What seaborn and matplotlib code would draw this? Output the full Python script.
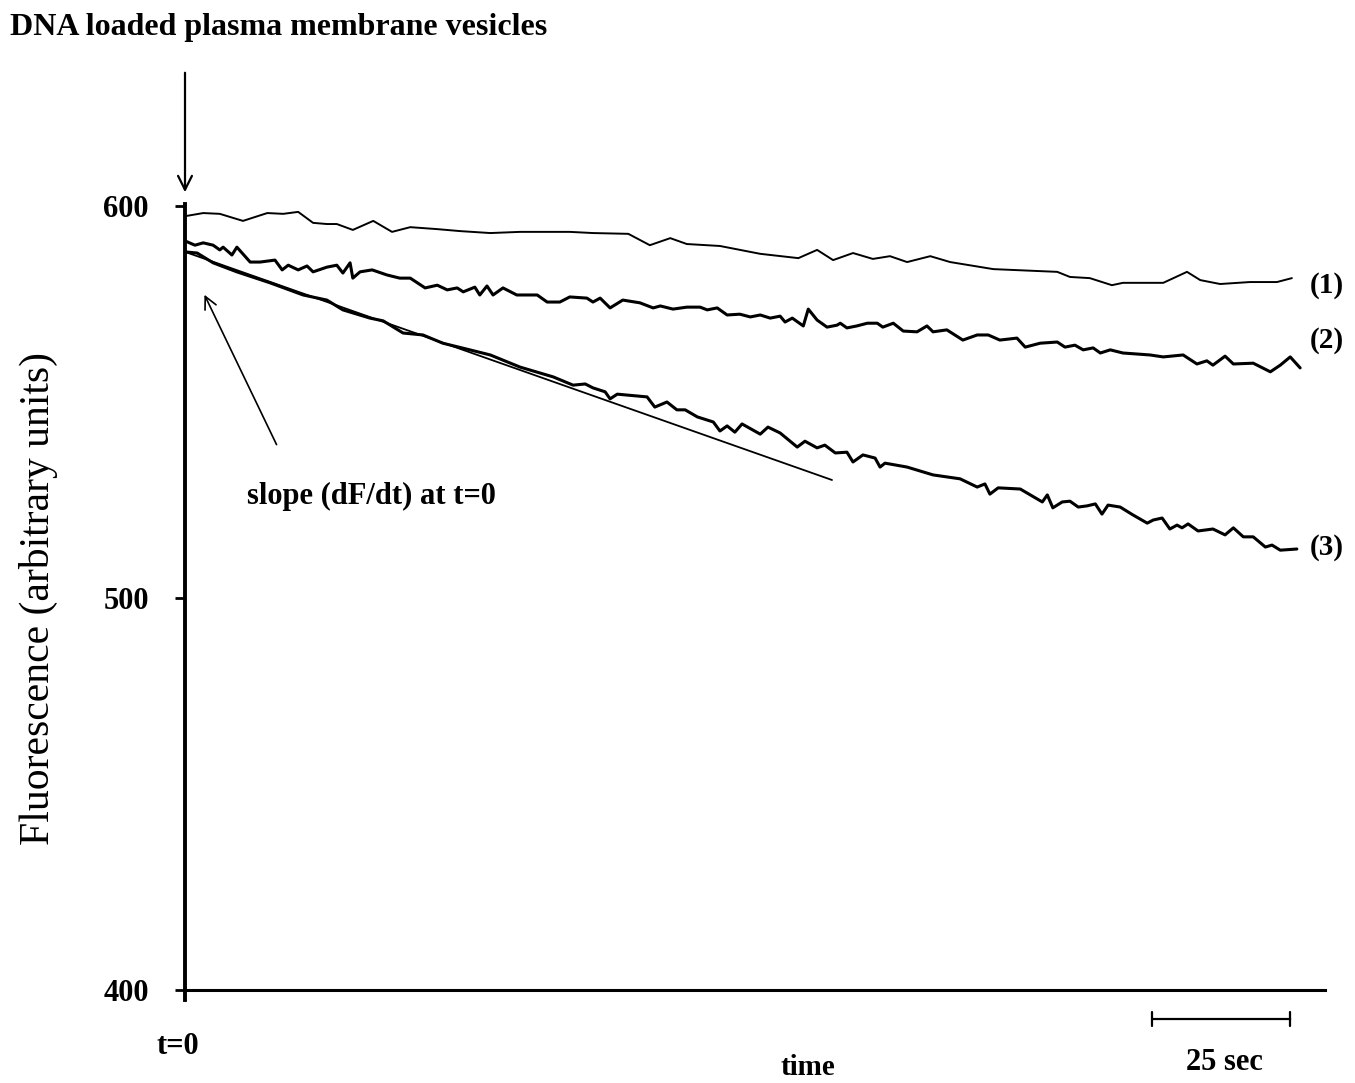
import matplotlib
matplotlib.use("Agg")
import matplotlib.pyplot as plt
import seaborn as sns
import pandas as pd

# trace (1): time (s) and fluorescence (a.u.)
time_1 = [0.0, 3.3, 6.3, 10.5, 14.9, 17.8, 20.5, 23.2, 25.7, 27.5, 30.4, 34.1, 37.5, 40.8,
          45.7, 49.8, 55.3, 60.7, 69.7, 73.9, 80.3, 84.2, 87.9, 90.9, 96.9, 104.2, 111.1,
          114.5, 117.4, 121.0, 124.6, 127.7, 130.8, 135.0, 138.6, 146.4, 158.0, 160.3,
          163.9, 167.9, 169.9, 177.2, 181.5, 183.9, 187.5, 192.9, 197.8, 200.5]
fluor_1 = [597.4, 598.2, 598.0, 596.2, 598.2, 598.0, 598.5, 595.7, 595.4, 595.4, 593.9, 596.2,
           593.4, 594.6, 594.1, 593.6, 593.1, 593.4, 593.4, 593.1, 592.9, 590.0, 591.8, 590.3,
           589.8, 587.8, 586.7, 588.8, 586.2, 588.0, 586.5, 587.2, 585.7, 587.2, 585.7, 583.9,
           583.2, 581.9, 581.6, 579.8, 580.4, 580.4, 583.2, 581.1, 580.1, 580.6, 580.6, 581.6]

# trace (2)
time_2 = [0.0, 1.8, 3.3, 5.1, 6.3, 6.9, 8.5, 9.4, 11.8, 13.6, 16.3, 17.6, 18.7, 20.5, 22.1,
          23.2, 25.7, 27.5, 28.6, 29.9, 30.4, 31.7, 33.9, 36.6, 38.9, 40.8, 43.5, 45.7, 47.5,
          49.3, 50.4, 52.5, 53.4, 54.7, 55.8, 57.6, 60.1, 63.8, 65.6, 67.9, 69.7, 72.8, 73.9,
          75.2, 77.0, 79.3, 82.4, 84.8, 86.1, 88.4, 90.9, 93.3, 94.6, 96.4, 98.2, 100.5, 102.4,
          104.2, 106.0, 107.8, 108.7, 110.0, 112.0, 112.9, 114.5, 116.3, 118.1, 118.7, 119.9,
          121.7, 123.6, 125.4, 126.4, 128.3, 130.1, 132.6, 134.4, 135.5, 138.0, 140.9, 143.5,
          145.5, 147.6, 150.7, 152.2, 154.9, 158.0, 159.4, 161.2, 162.7, 164.5, 165.8, 167.6,
          169.9, 174.8, 177.2, 180.8, 183.3, 185.1, 186.2, 188.4, 189.9, 193.5, 196.6, 198.4,
          200.2, 202.0]
fluor_2 = [591.1, 590.0, 590.6, 590.0, 588.8, 589.5, 587.5, 589.5, 585.7, 585.7, 586.2, 583.7,
           584.9, 583.7, 584.7, 583.2, 584.4, 584.9, 582.9, 585.5, 581.6, 583.2, 583.7, 582.4,
           581.6, 581.6, 579.1, 579.8, 578.6, 579.1, 578.1, 579.3, 577.3, 579.6, 577.3, 579.1,
           577.3, 577.3, 575.5, 575.5, 576.8, 576.5, 575.5, 576.5, 574.0, 576.0, 575.3, 574.0,
           574.5, 573.7, 574.2, 574.2, 573.5, 574.0, 572.2, 572.4, 571.7, 572.2, 571.4, 571.9,
           570.4, 571.4, 569.4, 573.7, 570.9, 569.1, 569.6, 570.1, 568.9, 569.4, 570.1, 570.1,
           569.1, 570.1, 568.1, 567.9, 569.4, 567.9, 568.4, 565.8, 567.1, 567.1, 565.8, 566.3,
           564.0, 565.0, 565.3, 564.0, 564.5, 563.3, 563.8, 562.5, 563.3, 562.5, 562.0, 561.5,
           562.0, 559.7, 560.5, 559.4, 561.7, 559.7, 559.9, 557.7, 559.4, 561.5, 558.7]

# trace (3)
time_3 = [0.0, 2.2, 5.1, 9.4, 15.4, 21.4, 25.7, 28.6, 33.5, 35.9, 39.5, 43.1, 46.7, 51.6,
          55.3, 60.7, 66.7, 70.3, 72.5, 73.9, 76.1, 77.0, 78.3, 83.7, 85.1, 87.3, 89.1, 90.6,
          92.8, 95.7, 96.9, 98.2, 99.6, 100.9, 104.2, 105.6, 107.8, 110.9, 112.3, 114.5, 115.9,
          117.8, 119.9, 121.0, 122.8, 125.0, 125.9, 126.8, 130.8, 135.5, 140.4, 143.5, 144.9,
          145.8, 147.3, 151.3, 155.3, 156.2, 157.2, 158.9, 160.3, 161.8, 163.4, 164.9, 166.1,
          167.2, 169.4, 171.7, 174.3, 175.4, 177.0, 178.4, 179.7, 180.6, 181.7, 183.5, 186.2,
          188.4, 189.9, 191.7, 193.5, 195.7, 196.9, 198.4, 201.4]
fluor_3 = [588.3, 588.0, 585.5, 583.2, 580.4, 577.3, 576.0, 573.5, 571.4, 570.7, 567.6, 567.1,
           565.0, 563.3, 562.0, 558.9, 556.4, 554.3, 554.6, 553.6, 552.6, 550.8, 552.0, 551.3,
           548.7, 550.0, 548.0, 548.0, 546.2, 544.9, 542.6, 543.9, 542.3, 544.4, 541.8, 543.6,
           542.1, 538.5, 540.0, 538.3, 539.0, 537.0, 537.2, 534.7, 536.5, 535.7, 533.4, 534.4,
           533.4, 531.4, 530.4, 528.3, 529.1, 526.5, 528.1, 527.8, 524.5, 526.3, 523.0, 524.5,
           524.7, 523.2, 523.5, 524.0, 521.4, 523.7, 523.2, 521.2, 519.1, 519.9, 520.4, 517.6,
           518.6, 517.9, 518.9, 517.1, 517.6, 516.1, 517.9, 515.6, 515.6, 513.0, 513.5, 512.2,
           512.5]

# initial slope tangent drawn on trace (3)
slope_time = [0.0, 117.2]
slope_fluor = [588.3, 530.1]

trace_labels = ["(1)", "(2)", "(3)"]
label_fluor = [579.8, 565.8, 512.8]
y_ticks = [400, 500, 600]
scale_start = 175.2
scale_length = 25

sns.set_theme(style="white")
plt.rcParams["font.family"] = ["Liberation Serif", "DejaVu Serif"]
plt.rcParams["text.color"] = "black"
plt.rcParams["axes.labelcolor"] = "black"
plt.rcParams["ytick.color"] = "black"

fig = plt.figure(figsize=(13.55, 10.83), dpi=100)
ax = fig.add_axes([185 / 1355, 1 - 990 / 1083, 1140 / 1355, 784 / 1083])

frames = []
for name, t, f in [("1", time_1, fluor_1), ("2", time_2, fluor_2), ("3", time_3, fluor_3)]:
    frames.append(pd.DataFrame({"time": t, "fluor": f, "trace": name}))
df = pd.concat(frames, ignore_index=True)

sns.lineplot(data=df[df["trace"] == "1"], x="time", y="fluor", color="black",
             linewidth=1.4, sort=False, estimator=None, ax=ax)
sns.lineplot(data=df[df["trace"] != "1"], x="time", y="fluor", units="trace", color="black",
             linewidth=2.2, sort=False, estimator=None, ax=ax)
ax.plot(slope_time, slope_fluor, color="black", linewidth=1.3)

ax.set_xlim(0, 206.5)
ax.set_ylim(400, 600)
ax.set_yticks(y_ticks)
ax.set_yticklabels([str(v) for v in y_ticks], fontsize=22, fontweight="bold")
ax.set_xticks([])
ax.tick_params(axis="y", direction="out", length=7, width=2, pad=19, left=True, colors="black")
for side in ["top", "right"]:
    ax.spines[side].set_visible(False)
ax.spines["left"].set_linewidth(2.8)
ax.spines["left"].set_color("black")
ax.spines["left"].set_bounds(397.5, 600.5)
ax.spines["bottom"].set_linewidth(2.2)
ax.spines["bottom"].set_color("black")

ax.set_ylabel("Fluorescence (arbitrary units)", fontsize=30)
ax.yaxis.set_label_coords(-0.111, 0.5)
ax.set_xlabel("")

for lab, yv in zip(trace_labels, label_fluor):
    ax.text(203.8, yv, lab, fontsize=21, fontweight="bold", ha="left", va="center")

ax.text(11.2, 525.8, "slope (dF/dt) at t=0", fontsize=22, fontweight="bold",
        ha="left", va="center")
ax.annotate("", xy=(3.3, 578.0), xytext=(16.8, 538.5),
            arrowprops=dict(arrowstyle="->", color="black", lw=1.2, mutation_scale=22))

# addition arrow at t=0
ax.annotate("", xy=(0, 602.8), xytext=(0, 634.7), annotation_clip=False,
            arrowprops=dict(arrowstyle="->", color="black", lw=1.6, mutation_scale=25))

ax.text(-1.3, 385.5, "t=0", fontsize=22, fontweight="bold", ha="center", va="center",
        clip_on=False)
ax.text(112.9, 380.3, "time", fontsize=21, fontweight="bold", ha="center", va="center",
        clip_on=False)
ax.annotate("", xy=(scale_start, 392.6), xytext=(scale_start + scale_length, 392.6),
            annotation_clip=False,
            arrowprops=dict(arrowstyle="|-|", color="black", lw=1.6, mutation_scale=5,
                            shrinkA=0, shrinkB=0))
ax.text(scale_start + scale_length / 2 + 0.5, 381.4, "25 sec", fontsize=22, fontweight="bold",
        ha="center", va="center", clip_on=False)

fig.text(10 / 1355, 1 - 28 / 1083, "DNA loaded plasma membrane vesicles", fontsize=23,
         fontweight="bold", ha="left", va="center")

fig.savefig("out.png", dpi=100)
